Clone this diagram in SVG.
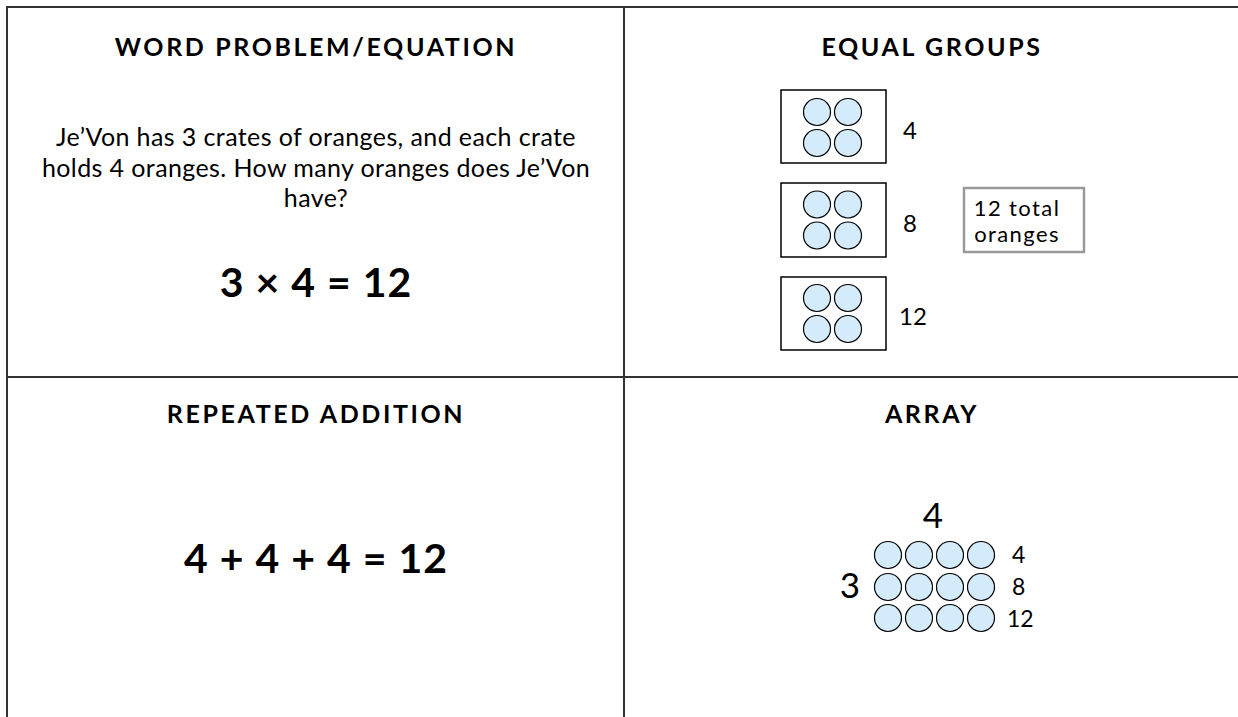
<svg xmlns="http://www.w3.org/2000/svg" width="1238" height="717" viewBox="0 0 1238 717">
<style>
  text { font-family: Lato, "Open Sans", "Liberation Sans", sans-serif; fill: #000; }
  .h { font-size: 25px; font-weight: bold; text-anchor: middle; letter-spacing: 2.6px; }
  .p { font-size: 25px; text-anchor: middle; letter-spacing: 0.4px; }
  .eq { font-size: 41px; font-weight: bold; text-anchor: middle; letter-spacing: 1px; }
  .lbl { font-size: 24px; }
  .alb { font-size: 23px; }
  .tot { font-size: 22px; text-anchor: middle; letter-spacing: 1.4px; }
  .big { font-size: 35px; text-anchor: middle; }
  .grid { stroke: #333; stroke-width: 2; fill: none; }
  .crate { fill: #fff; stroke: #000; stroke-width: 1.5; }
  .o { fill: #d3ebfa; stroke: #000; stroke-width: 1.2; }
</style>
<defs>
  <g id="four">
    <circle class="o" cx="-15.5" cy="-15.5" r="13.5"/>
    <circle class="o" cx="15.5" cy="-15.5" r="13.5"/>
    <circle class="o" cx="-15.5" cy="15.5" r="13.5"/>
    <circle class="o" cx="15.5" cy="15.5" r="13.5"/>
  </g>
  <g id="row">
    <circle class="o" cx="0" cy="0" r="13.5"/>
    <circle class="o" cx="31" cy="0" r="13.5"/>
    <circle class="o" cx="62" cy="0" r="13.5"/>
    <circle class="o" cx="93" cy="0" r="13.5"/>
  </g>
</defs>
<rect width="1238" height="717" fill="#fff"/>
<g id="connectors">
  <line class="grid" x1="7" y1="7" x2="1238" y2="7"/>
  <line class="grid" x1="7" y1="6" x2="7" y2="717"/>
  <line class="grid" x1="624" y1="7" x2="624" y2="717"/>
  <line class="grid" x1="7" y1="377" x2="1238" y2="377"/>
</g>
<g id="word-problem">
  <text class="h" x="316" y="56">WORD PROBLEM/EQUATION</text>
  <text class="p" x="316" y="146">Je’Von has 3 crates of oranges, and each crate</text>
  <text class="p" x="316" y="177">holds 4 oranges. How many oranges does Je’Von</text>
  <text class="p" x="316" y="207">have?</text>
  <text class="eq" x="316" y="297">3 × 4 = 12</text>
</g>
<g id="equal-groups">
  <text class="h" x="932" y="56">EQUAL GROUPS</text>
  <rect class="crate" x="781" y="90" width="105" height="73"/>
  <use href="#four" x="832.5" y="127.5"/>
  <rect class="crate" x="781" y="183" width="105" height="74"/>
  <use href="#four" x="832.5" y="220"/>
  <rect class="crate" x="781" y="277" width="105" height="73"/>
  <use href="#four" x="832.5" y="313.5"/>
  <text class="lbl" x="903" y="139">4</text>
  <text class="lbl" x="903" y="232">8</text>
  <text class="lbl" x="899" y="325">12</text>
</g>
<g id="total">
  <rect x="964" y="188" width="120" height="64" fill="#fff" stroke="#999" stroke-width="2.5"/>
  <text class="tot" x="1017" y="216">12 total</text>
  <text class="tot" x="1017" y="242">oranges</text>
</g>
<g id="repeated-addition">
  <text class="h" x="316" y="423">REPEATED ADDITION</text>
  <text class="eq" x="316" y="573">4 + 4 + 4 = 12</text>
</g>
<g id="array">
  <text class="h" x="932" y="423">ARRAY</text>
  <text class="big" x="933" y="528">4</text>
  <text class="big" x="850" y="598">3</text>
  <use href="#row" x="888" y="555"/>
  <use href="#row" x="888" y="587"/>
  <use href="#row" x="888" y="618"/>
  <text class="alb" x="1012" y="563">4</text>
  <text class="alb" x="1012" y="595">8</text>
  <text class="alb" x="1007" y="627">12</text>
</g>
</svg>
